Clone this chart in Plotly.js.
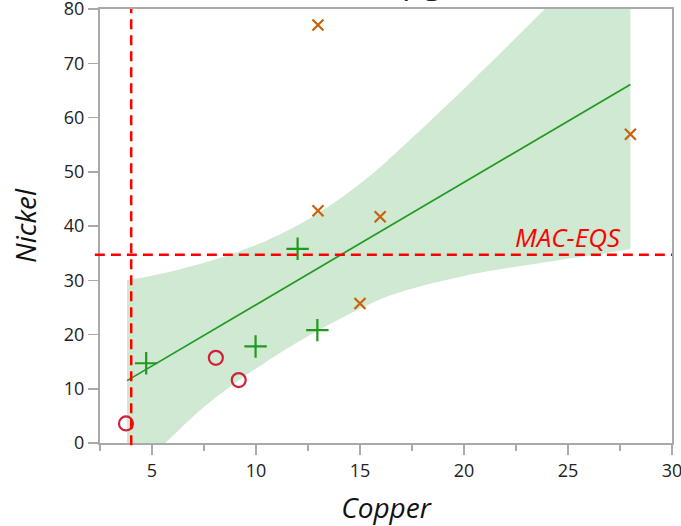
<!DOCTYPE html>
<html>
<head>
<meta charset="utf-8">
<script src="https://cdn.plot.ly/plotly-3.0.1.min.js"></script>
<style>html,body{margin:0;padding:0;background:#fff;}#chart{width:681px;height:526px;}</style>
</head>
<body>
<div id="chart"></div>
<script>
// Group 1: red open circles
const circleX = [3.75, 8.07, 9.17];
const circleY = [3.6, 15.7, 11.6];
// Group 2: green crosses
const plusX = [4.72, 9.98, 12.0, 12.95];
const plusY = [14.7, 17.8, 35.8, 20.8];
// Group 3: orange x marks
const xmarkX = [12.98, 12.98, 15.97, 15.0, 28.0];
const xmarkY = [77.05, 42.8, 41.7, 25.7, 56.9];
// Fitted line (endpoints)
const fitX = [3.8, 28.0];
const fitY = [11.5, 66.1];
// Confidence band
const bandX =     [3.8, 5.65, 7.3, 8.9, 10.5, 12.1, 13.0, 14.2, 15.3, 16.3, 18.0, 20.0, 22.0, 23.7, 26.0, 28.0];
const bandUpper = [30.0, 31.4, 33.0, 34.9, 37.3, 40.3, 42.4, 45.5, 48.7, 52.0, 58.0, 65.3, 72.8, 79.3, 88.3, 96.4];
const bandLower = [-7.0, 0.0, 6.0, 10.8, 15.0, 18.8, 20.8, 23.2, 25.3, 27.0, 29.0, 30.8, 32.2, 33.2, 34.5, 35.7];
// Reference limits
const macEqs = 34.7;
const copperLimit = 4.0;
const xTicks = [5, 10, 15, 20, 25, 30];
const yTicks = [0, 10, 20, 30, 40, 50, 60, 70, 80];

const FONT = '"Open Sans", "Noto Sans", sans-serif';
const AXIS_GRAY = '#a9a9a9';
const BAND = 'rgb(208,233,210)';

const traces = [
  {x: bandX, y: bandLower, type: 'scatter', mode: 'lines', line: {width: 0, color: 'rgba(0,0,0,0)', shape: 'spline', smoothing: 0.9},
   hoverinfo: 'skip', showlegend: false},
  {x: bandX, y: bandUpper, type: 'scatter', mode: 'lines', fill: 'tonexty', fillcolor: BAND,
   line: {width: 0, color: 'rgba(0,0,0,0)', shape: 'spline', smoothing: 0.9}, hoverinfo: 'skip', showlegend: false},
  {x: fitX, y: fitY, type: 'scatter', mode: 'lines', line: {color: '#1f9a1f', width: 1.7}, showlegend: false},
  {x: circleX, y: circleY, type: 'scatter', mode: 'markers', showlegend: false,
   marker: {symbol: 'circle-open', size: 14, color: '#d0213c', line: {width: 2.2, color: '#d0213c'}}},
  {x: plusX, y: plusY, type: 'scatter', mode: 'markers', showlegend: false,
   marker: {symbol: 'cross-thin-open', size: 16, color: '#1f9a1f', line: {width: 2.2, color: '#1f9a1f'}}},
  {x: xmarkX, y: xmarkY, type: 'scatter', mode: 'markers', showlegend: false,
   marker: {symbol: 'x-thin-open', size: 11, color: '#c8620a', line: {width: 2.2, color: '#c8620a'}}}
];

const layout = {
  width: 681, height: 526,
  margin: {l: 100, r: 9, t: 9, b: 83},
  paper_bgcolor: '#fff', plot_bgcolor: '#fff',
  font: {family: FONT, color: '#222'},
  showlegend: false,
  xaxis: {
    range: [2.5, 30], tickvals: xTicks, ticks: 'outside', ticklen: 10, tickwidth: 1.5, tickcolor: AXIS_GRAY,
    showline: true, linecolor: AXIS_GRAY, linewidth: 2, mirror: true, showgrid: false, zeroline: false,
    ticklabeloverflow: 'allow',
    tickfont: {family: FONT, size: 18, color: '#222'},
    minor: {dtick: 2.5, tick0: 0, ticks: 'outside', ticklen: 6, tickwidth: 1.5, tickcolor: AXIS_GRAY, showgrid: false},
    title: {text: 'Copper', font: {family: FONT, size: 28, style: 'italic', color: '#111'}, standoff: 30}
  },
  yaxis: {
    range: [0, 80], tickvals: yTicks, ticks: 'outside', ticklen: 10, tickwidth: 1.5, tickcolor: AXIS_GRAY,
    showline: true, linecolor: AXIS_GRAY, linewidth: 2, mirror: true, showgrid: false, zeroline: false,
    ticklabeloverflow: 'allow',
    tickfont: {family: FONT, size: 18, color: '#222'},
    title: {text: 'Nickel', font: {family: FONT, size: 28, style: 'italic', color: '#111'}, standoff: 19}
  },
  shapes: [
    {type: 'line', xref: 'x', yref: 'paper', x0: copperLimit, x1: copperLimit, y0: -0.005, y1: 1,
     line: {color: '#ff0000', width: 2.5, dash: '10px,6px'}},
    {type: 'line', xref: 'paper', yref: 'y', x0: -0.009, x1: 1, y0: macEqs, y1: macEqs,
     line: {color: '#ff0000', width: 2.5, dash: '10px,6px'}}
  ],
  annotations: [
    {text: 'MAC-EQS', xref: 'x', yref: 'y', x: 25.0, y: 38.0, xanchor: 'center', yanchor: 'middle',
     showarrow: false, font: {family: FONT, size: 26, style: 'italic', color: '#ff0000'}},
    {text: '(μg/L)', xref: 'paper', yref: 'paper', x: 0.671, y: 1.0095, xanchor: 'right', yanchor: 'bottom',
     showarrow: false, font: {family: FONT, size: 34, color: '#222'}}
  ]
};

Plotly.newPlot('chart', traces, layout, {staticPlot: true, displayModeBar: false});
</script>
</body>
</html>
